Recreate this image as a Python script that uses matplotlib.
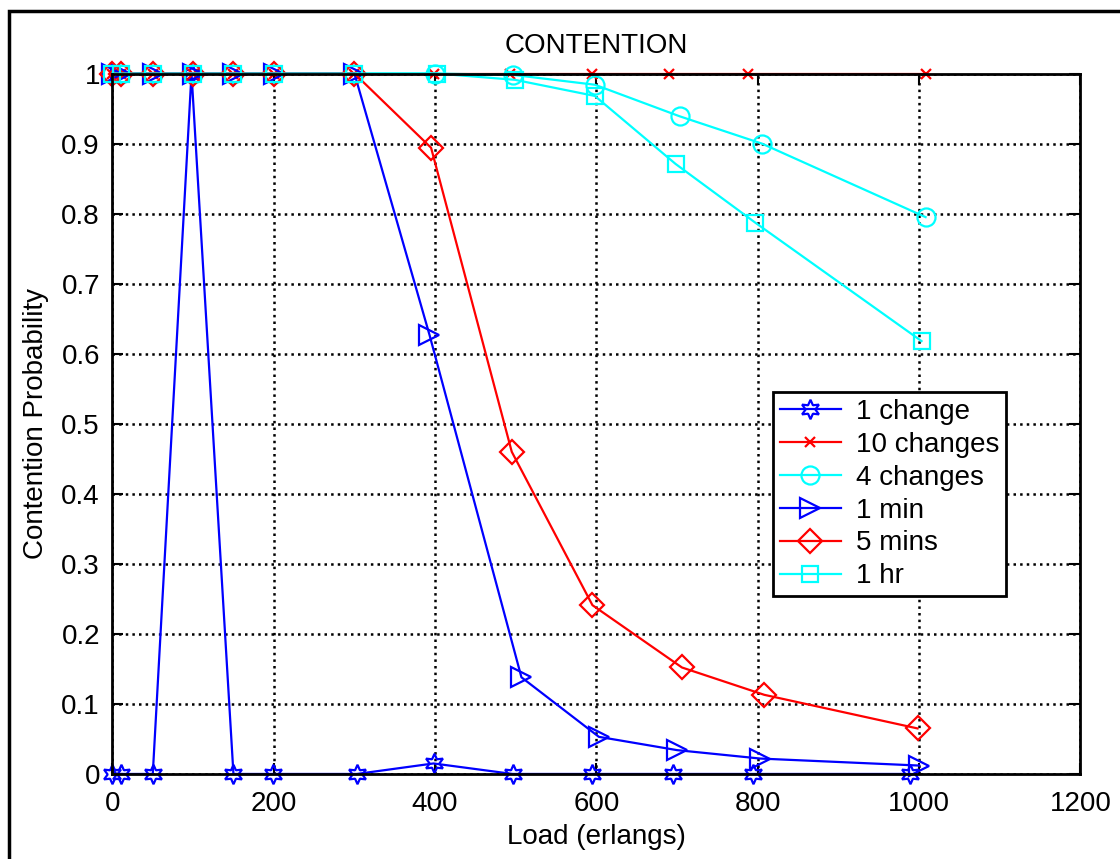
import matplotlib.pyplot as plt
from matplotlib.patches import Rectangle

plt.rcParams["font.family"] = ["Liberation Sans", "DejaVu Sans"]

# load points (erlangs); small offsets are in the original
x_1change = [0, 10, 50, 98, 150, 199, 303, 398, 496, 595, 695, 794, 989]
y_1change = [0, 0, 0, 1, 0, 0, 0, 0.015, 0, 0, 0, 0, 0]

x_10changes = [0, 10, 50, 100, 150, 200, 300, 398, 493, 595, 690, 788, 1008]
y_10changes = [1, 1, 1, 1, 1, 1, 1, 1, 1, 1, 1, 1, 1]

x_4changes = [0, 10, 50, 100, 150, 200, 300, 400, 497, 598, 703, 805, 1008]
y_4changes = [1, 1, 1, 1, 1, 1, 1, 1, 0.998, 0.984, 0.939, 0.900, 0.795]

x_1min = [0, 10, 50, 100, 150, 200, 300, 393, 507, 603, 700, 803, 1000]
y_1min = [1, 1, 1, 1, 1, 1, 1, 0.627, 0.138, 0.053, 0.034, 0.022, 0.012]

x_5mins = [0, 10, 50, 100, 150, 200, 300, 395, 495, 595, 706, 808, 998]
y_5mins = [1, 1, 1, 1, 1, 1, 1, 0.894, 0.460, 0.241, 0.152, 0.113, 0.065]

x_1hr = [0, 10, 50, 100, 150, 200, 300, 402, 499, 598, 698, 797, 1003]
y_1hr = [1, 1, 1, 1, 1, 1, 1, 1, 0.991, 0.968, 0.871, 0.787, 0.618]

series = [
    ("1 change", x_1change, y_1change, "blue", "*", 14),
    ("10 changes", x_10changes, y_10changes, "red", "x", 7),
    ("4 changes", x_4changes, y_4changes, "cyan", "o", 13),
    ("1 min", x_1min, y_1min, "blue", ">", 15),
    ("5 mins", x_5mins, y_5mins, "red", "D", 12),
    ("1 hr", x_1hr, y_1hr, "cyan", "s", 12),
]

xticks = [0, 200, 400, 600, 800, 1000, 1200]
yticks = [0, 0.1, 0.2, 0.3, 0.4, 0.5, 0.6, 0.7, 0.8, 0.9, 1]
ytick_labels = ["0", "0.1", "0.2", "0.3", "0.4", "0.5", "0.6", "0.7", "0.8", "0.9", "1"]

fs = 20

fig = plt.figure(figsize=(11.2, 8.59), dpi=100)
ax = fig.add_axes([0.1004, 0.0990, 0.8643, 0.8154])

# frame around the whole figure
fig.patches.append(
    Rectangle((9 / 1120, -0.1), 1.2, 1 - 11 / 859 + 0.1, transform=fig.transFigure,
              fill=False, edgecolor="black", linewidth=2.5, clip_on=False)
)

for label, xs, ys, color, marker, ms in series:
    if marker == "*":
        # six-pointed star like MATLAB's hexagram
        marker = (6, 1, 0)
    ax.plot(xs, ys, color=color, linewidth=1.6, marker=marker, markersize=ms,
            markerfacecolor="none", markeredgecolor=color, markeredgewidth=1.6,
            label=label, clip_on=False)

ax.set_xlim(0, 1200)
ax.set_ylim(0, 1)
ax.set_xticks(xticks)
ax.set_yticks(yticks)
ax.set_yticklabels(ytick_labels)
ax.tick_params(direction="in", length=8, width=1.5, labelsize=fs, pad=12,
               top=True, right=True)
ax.tick_params(axis="y", pad=9)
ax.grid(True, color="black", linestyle=":", linewidth=1.8)
ax.set_axisbelow(True)
for side in ax.spines.values():
    side.set_linewidth(2)

ax.set_title("CONTENTION", fontsize=fs, pad=15)
ax.set_xlabel("Load (erlangs)", fontsize=fs, labelpad=5)
ax.set_ylabel("Contention Probability", fontsize=fs, labelpad=9)

leg = ax.legend(loc="upper left", bbox_to_anchor=(0.682, 0.5457), borderaxespad=0,
                fontsize=fs, fancybox=False, framealpha=1, edgecolor="black",
                labelspacing=0.25, handlelength=2.2, handletextpad=0.55,
                borderpad=0.25)
leg.get_frame().set_linewidth(2)

fig.savefig("out.png", dpi=100)
